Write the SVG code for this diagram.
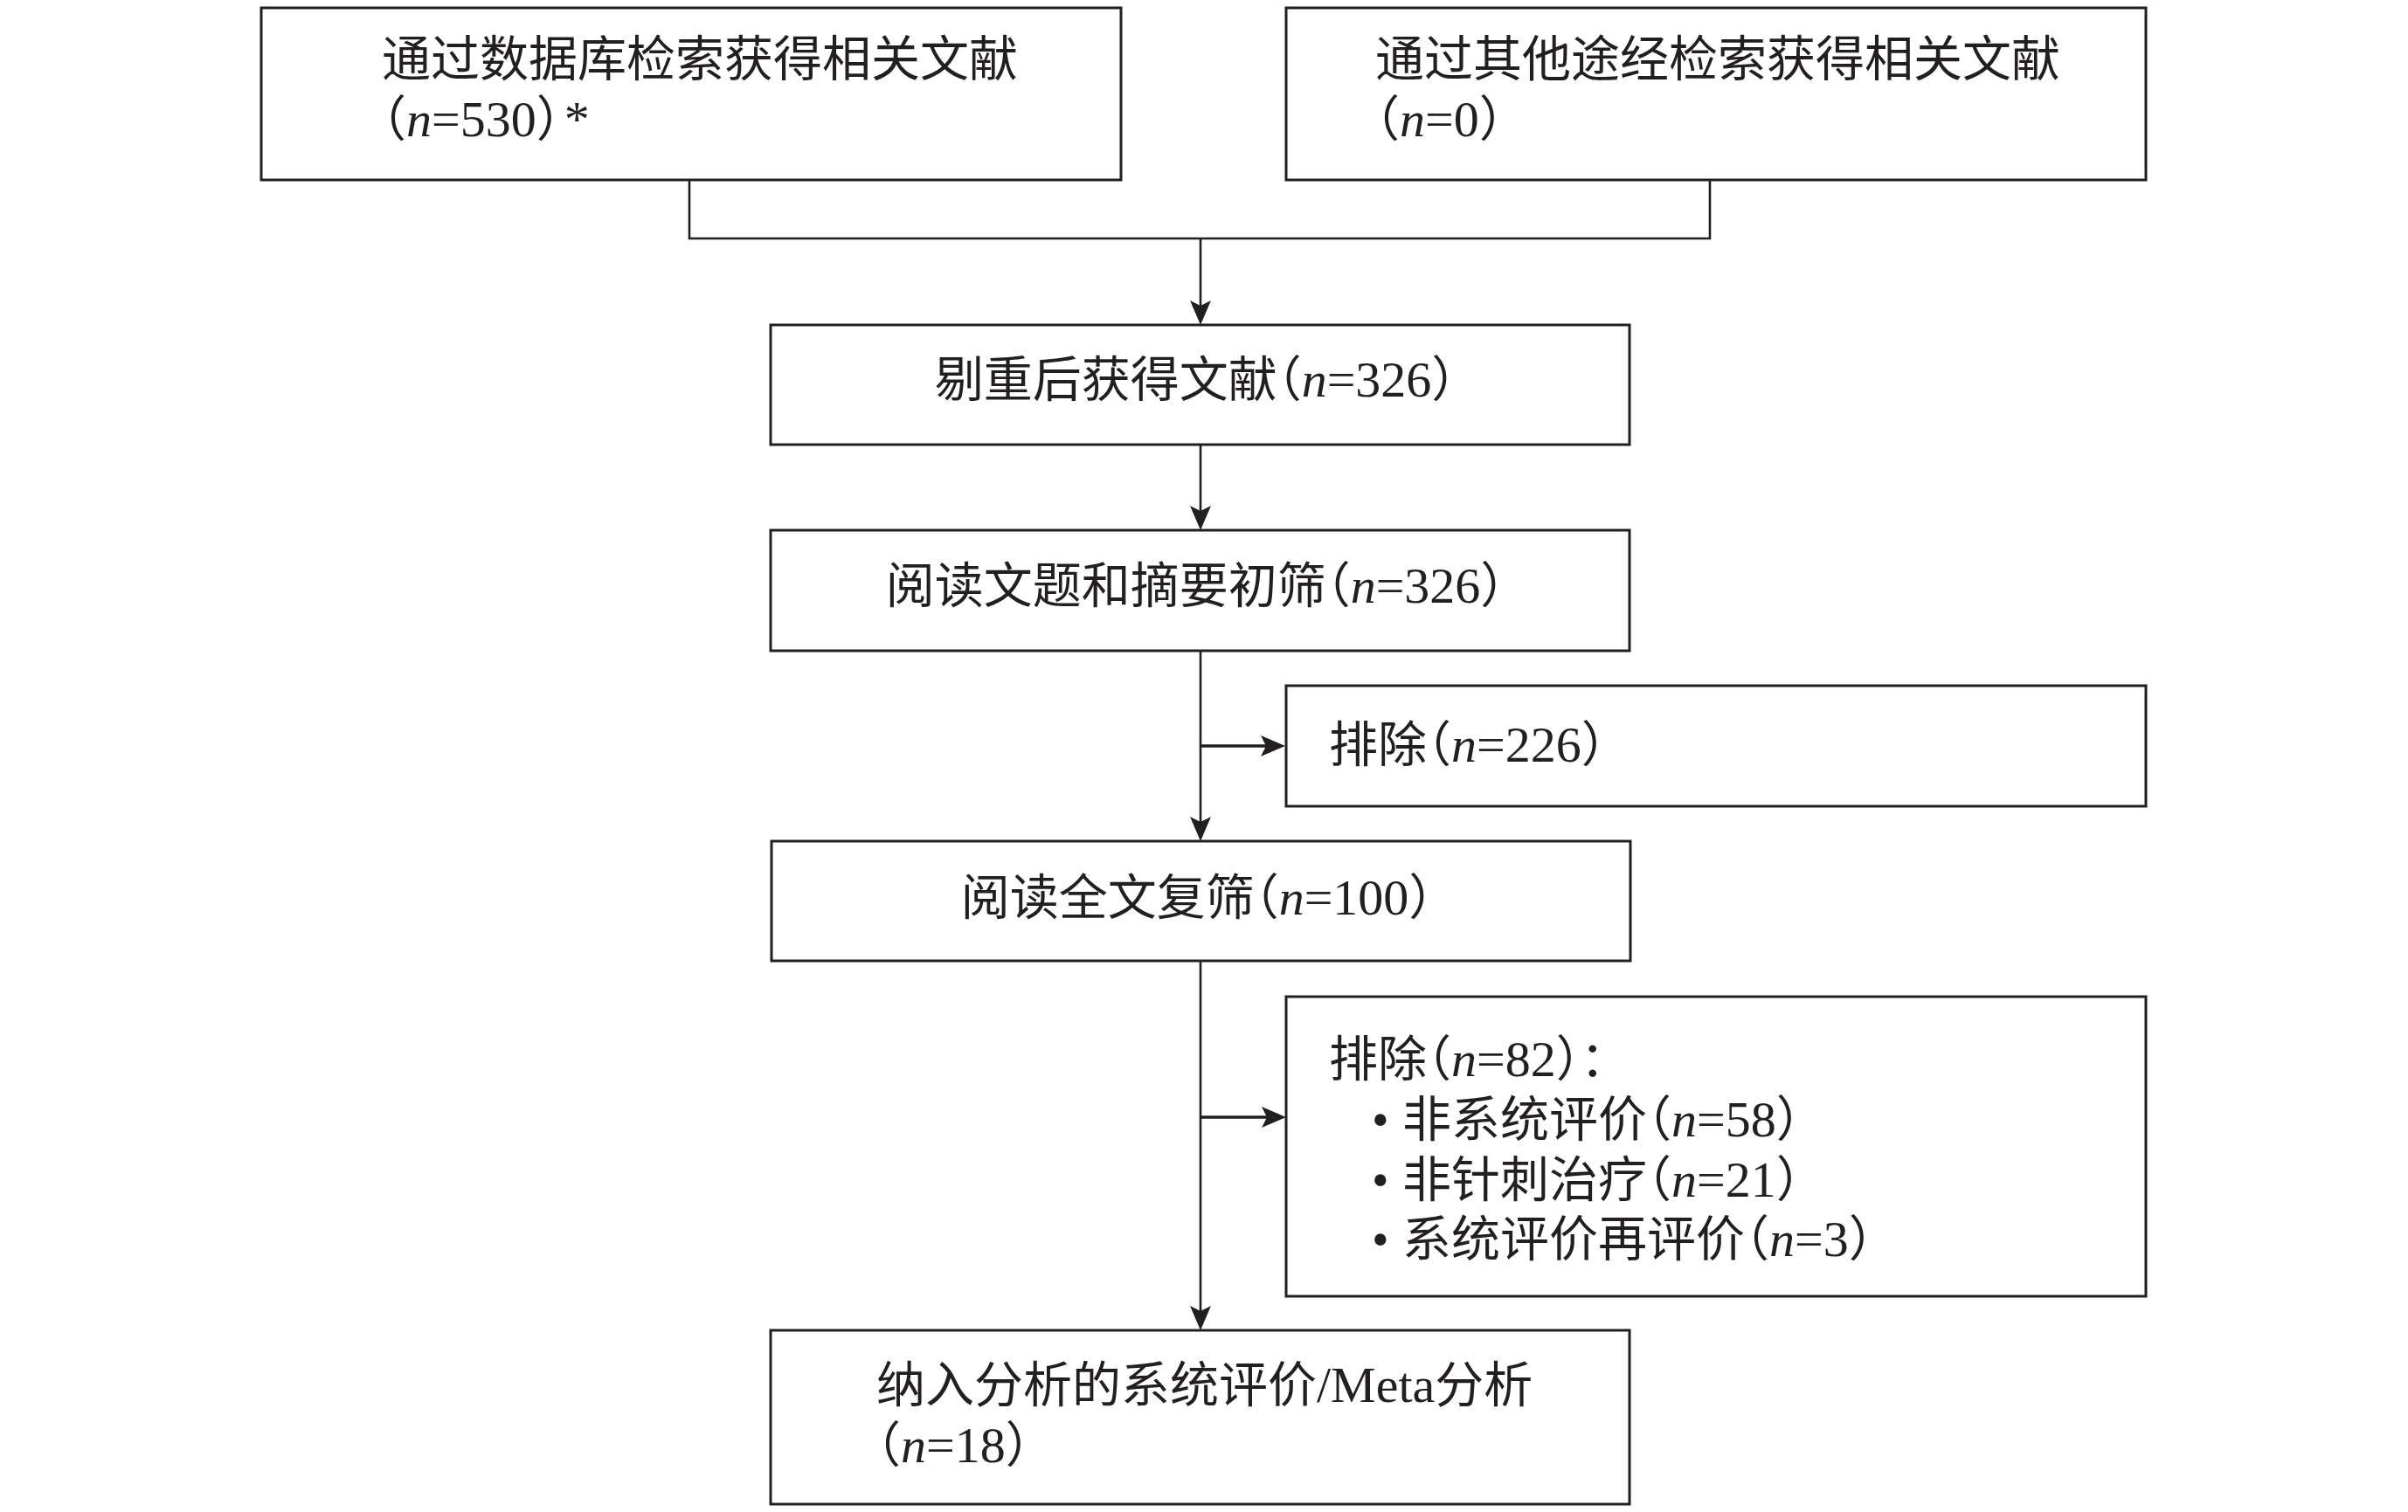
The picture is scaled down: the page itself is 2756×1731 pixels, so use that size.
<svg xmlns="http://www.w3.org/2000/svg" width="2756" height="1731" viewBox="0 0 2756 1731">
<style>
.box{fill:#fff;stroke:#231f20;stroke-width:3}
.con{fill:none;stroke:#231f20;stroke-width:2.6}
.br{fill:none;stroke:#231f20;stroke-width:3.4}
text{font-family:"Liberation Serif","Noto Sans CJK SC",serif;font-size:56px;fill:#231f20;font-feature-settings:"halt"}
.l{font-size:58px}
.i{font-style:italic}
.m{text-anchor:middle}
</style>
<defs>
<marker id="ah" viewBox="0 0 28 24" refX="8" refY="12" markerWidth="28" markerHeight="24" orient="auto" markerUnits="userSpaceOnUse">
<path d="M0,0 L28,12 L0,24 L6,12 Z" fill="#231f20"/>
</marker>
</defs>
<rect width="2756" height="1731" fill="#fff"/>
<g id="connectors">
<path class="con" d="M789,206 V273 H1957 V206"/>
<path class="con" d="M1374,273 V352" marker-end="url(#ah)"/>
<path class="con" d="M1374,509 V587" marker-end="url(#ah)"/>
<path class="con" d="M1374,745 V943" marker-end="url(#ah)"/>
<path class="br" d="M1374,854 H1451" marker-end="url(#ah)"/>
<path class="con" d="M1374,1100 V1503" marker-end="url(#ah)"/>
<path class="br" d="M1374,1279 H1452" marker-end="url(#ah)"/>
</g>
<g id="node-db">
<rect class="box" x="299" y="9" width="984" height="197"/>
<text x="437" y="87">通过数据库检索获得相关文献</text>
<text x="437" y="156">（<tspan class="l i">n</tspan><tspan class="l">=530</tspan>）<tspan class="l" dx="4">*</tspan></text>
</g>
<g id="node-other">
<rect class="box" x="1472" y="9" width="984" height="197"/>
<text x="1574" y="87">通过其他途经检索获得相关文献</text>
<text x="1574" y="156">（<tspan class="l i">n</tspan><tspan class="l">=0</tspan>）</text>
</g>
<g id="node-dedup">
<rect class="box" x="882" y="372" width="983" height="137"/>
<text class="m" x="1368" y="454">剔重后获得文献（<tspan class="l i">n</tspan><tspan class="l">=326</tspan>）</text>
</g>
<g id="node-title">
<rect class="box" x="882" y="607" width="983" height="138"/>
<text class="m" x="1368" y="690">阅读文题和摘要初筛（<tspan class="l i">n</tspan><tspan class="l">=326</tspan>）</text>
</g>
<g id="node-excl1">
<rect class="box" x="1472" y="785" width="984" height="138"/>
<text x="1521" y="872">排除（<tspan class="l i">n</tspan><tspan class="l">=226</tspan>）</text>
</g>
<g id="node-full">
<rect class="box" x="883" y="963" width="983" height="137"/>
<text class="m" x="1370" y="1047">阅读全文复筛（<tspan class="l i">n</tspan><tspan class="l">=100</tspan>）</text>
</g>
<g id="node-excl2">
<rect class="box" x="1472" y="1141" width="984" height="343"/>
<text x="1521" y="1232">排除（<tspan class="l i">n</tspan><tspan class="l">=82</tspan>）：</text>
<text y="1301"><tspan x="1570">•</tspan><tspan x="1605">非系统评价（</tspan><tspan class="l i">n</tspan><tspan class="l">=58</tspan>）</text>
<text y="1370"><tspan x="1570">•</tspan><tspan x="1605">非针刺治疗（</tspan><tspan class="l i">n</tspan><tspan class="l">=21</tspan>）</text>
<text y="1438"><tspan x="1570">•</tspan><tspan x="1605">系统评价再评价（</tspan><tspan class="l i">n</tspan><tspan class="l">=3</tspan>）</text>
</g>
<g id="node-included">
<rect class="box" x="882" y="1523" width="983" height="199"/>
<text x="1003" y="1605">纳入分析的系统评价<tspan class="l">/Meta</tspan>分析</text>
<text x="1003" y="1674">（<tspan class="l i">n</tspan><tspan class="l">=18</tspan>）</text>
</g>
</svg>
